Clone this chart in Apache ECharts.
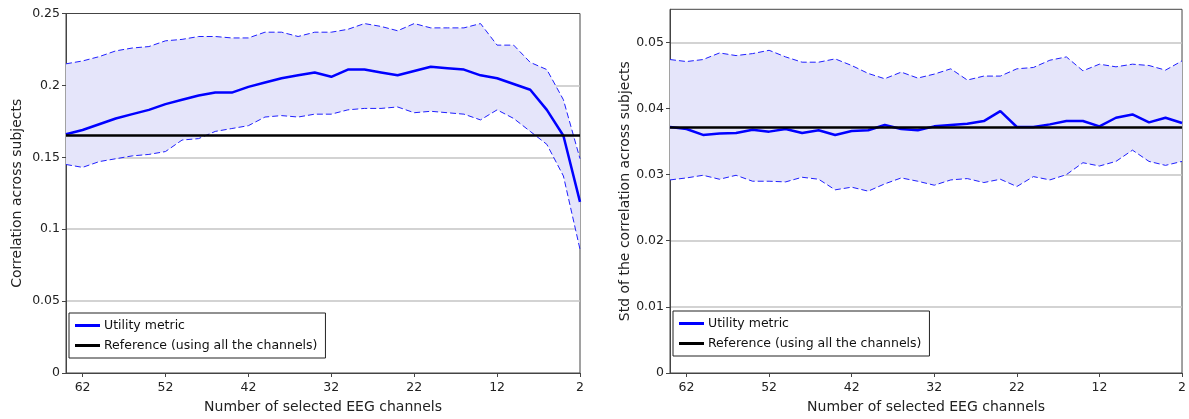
<!DOCTYPE html>
<html>
<head>
<meta charset="utf-8">
<script src="https://cdn.jsdelivr.net/npm/echarts@6/dist/echarts.min.js"></script>
<style>
  html, body { margin: 0; padding: 0; background: #fff; }
  #chart { width: 1189px; height: 419px; }
</style>
</head>
<body>
<div id="chart"></div>
<script>
// number of selected channels, from left to right
var channels = ['64', '62', '60', '58', '56', '54', '52', '50', '48', '46', '44', '42', '40', '38', '36', '34',
                '32', '30', '28', '26', '24', '22', '20', '18', '16', '14', '12', '10', '8', '6', '4', '2'];
var xTickLabels = ['62', '52', '42', '32', '22', '12', '2'];

// left: correlation across subjects
var corrMean = [0.166, 0.169, 0.173, 0.177, 0.180, 0.183, 0.187, 0.190, 0.193, 0.195, 0.195, 0.199, 0.202, 0.205, 0.207, 0.209,
                0.206, 0.211, 0.211, 0.209, 0.207, 0.210, 0.213, 0.212, 0.211, 0.207, 0.205, 0.201, 0.197, 0.183, 0.165, 0.119];
var corrUpper = [0.215, 0.217, 0.220, 0.224, 0.226, 0.227, 0.231, 0.232, 0.234, 0.234, 0.233, 0.233, 0.237, 0.237, 0.234, 0.237,
                 0.237, 0.239, 0.243, 0.241, 0.238, 0.243, 0.240, 0.240, 0.240, 0.243, 0.228, 0.228, 0.216, 0.211, 0.190, 0.149];
var corrLower = [0.145, 0.143, 0.147, 0.149, 0.151, 0.152, 0.154, 0.162, 0.163, 0.168, 0.170, 0.172, 0.178, 0.179, 0.178, 0.180,
                 0.180, 0.183, 0.184, 0.184, 0.185, 0.181, 0.182, 0.181, 0.180, 0.176, 0.183, 0.177, 0.168, 0.159, 0.137, 0.086];
var corrRef = 0.165;

// right: std of the correlation across subjects
var stdMean = [0.0372, 0.0369, 0.0360, 0.0362, 0.0363, 0.0368, 0.0365, 0.0369, 0.0363, 0.0367, 0.0360, 0.0366, 0.0367, 0.0375, 0.0369, 0.0367,
               0.0373, 0.0375, 0.0377, 0.0381, 0.0396, 0.0372, 0.0372, 0.0376, 0.0381, 0.0381, 0.0373, 0.0386, 0.0391, 0.0379, 0.0386, 0.0378];
var stdUpper = [0.0474, 0.0471, 0.0474, 0.0484, 0.0480, 0.0483, 0.0488, 0.0478, 0.0470, 0.0470, 0.0475, 0.0465, 0.0453, 0.0445, 0.0455, 0.0446,
                0.0452, 0.0460, 0.0443, 0.0449, 0.0449, 0.0460, 0.0462, 0.0473, 0.0478, 0.0457, 0.0467, 0.0463, 0.0467, 0.0465, 0.0458, 0.0472];
var stdLower = [0.0292, 0.0295, 0.0299, 0.0293, 0.0299, 0.0290, 0.0290, 0.0289, 0.0296, 0.0293, 0.0277, 0.0281, 0.0275, 0.0286, 0.0295, 0.0290,
                0.0284, 0.0292, 0.0294, 0.0288, 0.0293, 0.0282, 0.0297, 0.0292, 0.0300, 0.0318, 0.0313, 0.0320, 0.0337, 0.0320, 0.0314, 0.0320];
var stdRef = 0.0372;

var FONT = 'DejaVu Sans';
var MEAN_NAME = 'Utility metric';
var REF_NAME = 'Reference (using all the channels)';

function isTick(idx, val) {
    return xTickLabels.indexOf(val) >= 0;
}

function makeX(gridIndex) {
    return {
        type: 'category',
        gridIndex: gridIndex,
        data: channels,
        boundaryGap: false,
        name: 'Number of selected EEG channels',
        nameLocation: 'middle',
        nameGap: 27,
        nameTextStyle: { fontFamily: FONT, fontSize: 14, color: '#222' },
        axisLine: { lineStyle: { color: '#444', width: 1 } },
        axisTick: { interval: isTick, length: 4, inside: false, lineStyle: { color: '#444' } },
        axisLabel: { interval: isTick, margin: 8, fontFamily: FONT, fontSize: 12.5, color: '#222' },
        splitLine: { show: false }
    };
}

function makeY(gridIndex, max, interval, title, gap) {
    return {
        type: 'value',
        gridIndex: gridIndex,
        min: 0,
        max: max,
        interval: interval,
        name: title,
        nameLocation: 'middle',
        nameGap: gap,
        nameTextStyle: { fontFamily: FONT, fontSize: 14, color: '#222' },
        axisLine: { show: true, lineStyle: { color: '#444', width: 1 } },
        axisTick: { show: true, length: 4, inside: false, lineStyle: { color: '#444' } },
        axisLabel: { margin: 6, fontFamily: FONT, fontSize: 12.5, color: '#222', showMaxLabel: max === 0.25 },
        splitLine: { show: true, showMinLine: false, showMaxLine: false, lineStyle: { color: '#c4c4c4', width: 1.5 } }
    };
}

function bandSeries(idx, lower, upper) {
    var diff = [];
    for (var i = 0; i < lower.length; i++) {
        diff.push(+(upper[i] - lower[i]).toFixed(5));
    }
    var stackName = 'band' + idx;
    return [
        {
            type: 'line', xAxisIndex: idx, yAxisIndex: idx, data: lower, stack: stackName,
            symbol: 'none', lineStyle: { opacity: 0 }, silent: true, z: 1
        },
        {
            type: 'line', xAxisIndex: idx, yAxisIndex: idx, data: diff, stack: stackName,
            symbol: 'none', lineStyle: { opacity: 0 }, areaStyle: { color: '#e5e5fa', opacity: 1 }, silent: true, z: 1
        }
    ];
}

function dashed(idx, values) {
    return {
        type: 'line', xAxisIndex: idx, yAxisIndex: idx, data: values,
        symbol: 'none', silent: true, z: 2,
        lineStyle: { color: '#2020ff', width: 1, type: [6, 3] }
    };
}

function meanSeries(idx, values) {
    return {
        name: MEAN_NAME, type: 'line', xAxisIndex: idx, yAxisIndex: idx, data: values,
        symbol: 'none', z: 3, itemStyle: { color: '#0000ff' },
        lineStyle: { color: '#0000ff', width: 2.5 }
    };
}

function refSeries(idx, value) {
    return {
        name: REF_NAME, type: 'line', xAxisIndex: idx, yAxisIndex: idx, data: [],
        symbol: 'none', z: 4, itemStyle: { color: '#000' }, lineStyle: { color: '#000' },
        markLine: {
            silent: true, symbol: ['none', 'none'], label: { show: false },
            precision: 6,
            lineStyle: { color: '#000', width: 2.5, type: 'solid' },
            emphasis: { disabled: true },
            data: [{ yAxis: value }]
        }
    };
}

function makeLegend(left, top) {
    return {
        left: left, top: top, orient: 'vertical',
        backgroundColor: '#fff', borderColor: '#222', borderWidth: 1,
        padding: [6, 8, 6, 6], itemGap: 7, itemWidth: 25, itemHeight: 3,
        icon: 'rect', selectedMode: false,
        textStyle: { fontFamily: FONT, fontSize: 12.5, color: '#111', padding: [0, 0, 0, -1] },
        data: [
            { name: MEAN_NAME, itemStyle: { color: '#0000ff' } },
            { name: REF_NAME, itemStyle: { color: '#000' } }
        ]
    };
}

function madeChart() {
    var myChart = echarts.init(document.getElementById('chart'), null, { renderer: 'canvas' });

    var series = [].concat(
        bandSeries(0, corrLower, corrUpper),
        [dashed(0, corrUpper), dashed(0, corrLower), meanSeries(0, corrMean), refSeries(0, corrRef)],
        bandSeries(1, stdLower, stdUpper),
        [dashed(1, stdUpper), dashed(1, stdLower), meanSeries(1, stdMean), refSeries(1, stdRef)]
    );

    var option = {
        animation: false,
        backgroundColor: '#fff',
        grid: [
            { left: 66, top: 13.5, width: 514, height: 362, show: true, borderColor: '#444', borderWidth: 1, backgroundColor: 'transparent' },
            { left: 670, top: 9.3, width: 514, height: 367.4, show: true, borderColor: '#444', borderWidth: 1, backgroundColor: 'transparent' }
        ],
        legend: [makeLegend(69, 313), makeLegend(673, 311)],
        xAxis: [makeX(0), makeX(1)],
        yAxis: [
            makeY(0, 0.25, 0.05, 'Correlation across subjects', 42),
            makeY(1, 0.055, 0.01, 'Std of the correlation across subjects', 38)
        ],
        series: series
    };

    myChart.setOption(option);
}

madeChart();
</script>
</body>
</html>
